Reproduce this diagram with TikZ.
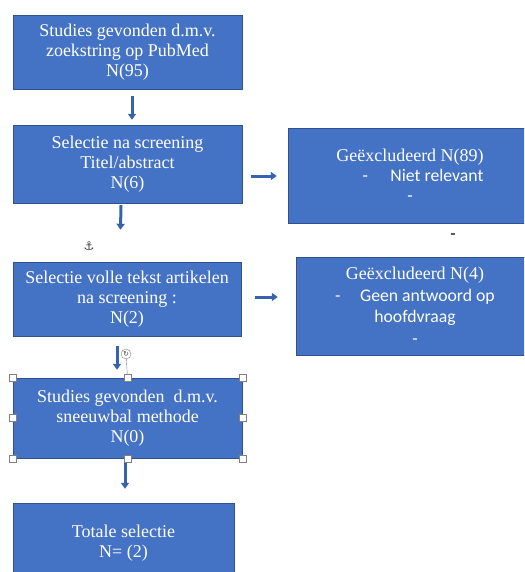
\documentclass[tikz,border=0pt]{standalone}
\usepackage{fontspec}
\setmainfont{Liberation Serif}
\newfontfamily\calib{Carlito}
\newfontfamily\symb{DejaVu Sans}
\usetikzlibrary{arrows.meta}

\definecolor{vakblauw}{HTML}{4472C4}
\definecolor{randblauw}{HTML}{2F528F}
\definecolor{pijlblauw}{HTML}{3762AE}

\tikzset{
 vak/.style={draw=randblauw,fill=vakblauw,text=white,align=center,inner sep=0pt,
             font=\fontsize{18}{20}\selectfont},
 pijl/.style={->,>={Triangle[length=6pt,width=8pt]},pijlblauw,line width=3pt},
 greep/.style={draw=gray,fill=white,minimum size=7pt,inner sep=0pt}
}
\newcommand\sch{\calib\fontsize{17.7}{20}\selectfont}

\begin{document}
\begin{tikzpicture}[x=1pt,y=-1pt]
 \clip (0,0) rectangle (524,572);
 \useasboundingbox (0,0) rectangle (524,572);
 % vakken links
 \node[vak,minimum width=229pt,minimum height=74pt] (zoek) at (127.5,52)
      {Studies gevonden d.m.v.\\ zoekstring op PubMed\\ N(95)};
 \node[vak,minimum width=229pt,minimum height=78pt] (titel) at (127.5,164)
      {Selectie na screening\\ Titel/abstract\\ N(6)};
 \node[vak,minimum width=228pt,minimum height=74pt] (volle) at (127,299)
      {Selectie volle tekst artikelen\\ na screening :\\ N(2)};
 \node[vak,minimum width=229pt,minimum height=80pt] (sneeuw) at (127.5,418)
      {Studies gevonden\ \ d.m.v.\\ sneeuwbal methode\\ N(0)};
 \node[vak,minimum width=221pt,minimum height=80pt] (totaal) at (123.5,543)
      {Totale selectie\\ N= (2)};
 % vakken rechts
 \node[vak,minimum width=244pt,minimum height=95pt] (excl1) at (410,175.5)
      {Geëxcludeerd N(89)\\ {\sch\hspace*{26pt}-\hspace{22.5pt}Niet relevant}\\ {\sch -}};
 \node[vak,minimum width=238pt,minimum height=98pt,font=\fontsize{18}{21.5}\selectfont] (excl2) at (415,306)
      {Geëxcludeerd N(4)\\ {\sch -\hspace{19.5pt}Geen antwoord op}\\
       {\sch hoofdvraag\hspace*{27pt}}\\ {\sch -}};
 \node[font=\sch] (streep) at (453,237) {-};
 % pijlen
 \draw[pijl] ([xshift=4.5pt,yshift=-7pt]zoek.south) -- ([xshift=4.5pt,yshift=5pt]titel.north);
 \draw[pijl] ([xshift=-6.5pt,yshift=-2pt]titel.south) -- ([xshift=-6.5pt,yshift=32pt]volle.north);
 \draw[pijl] ([xshift=-10pt,yshift=-10pt]volle.south) -- ([xshift=-10.5pt,yshift=8pt]sneeuw.north);
 \draw[pijl] ([xshift=-2.5pt,yshift=-2pt]sneeuw.south) -- ([xshift=1.5pt,yshift=14pt]totaal.north);
 \draw[pijl] ([xshift=9pt,yshift=-12pt]titel.east) coordinate (p1) -- ([xshift=-11pt]p1 -| excl1.west);
 \draw[pijl] ([xshift=14pt,yshift=2pt]volle.east) coordinate (p2) -- ([xshift=-18pt]p2 -| excl2.west);
 % selectie grepen
 \foreach \a/\n in {north west/nw,north/n,north east/ne,west/w,east/e,south west/sw,south/s,south east/se}
   \node[greep] (greep\n) at (sneeuw.\a) {};
 \node[draw=gray,circle,fill=white,minimum size=10pt,inner sep=0pt,
       font=\symb\fontsize{7}{7}\selectfont,text=darkgray] (draai) at (126,354) {↻};
 \draw[gray] (draai) -- (greepn);
 \node[font=\symb\fontsize{12}{12}\selectfont,text=darkgray] (anker) at (89,246) {⚓};
\end{tikzpicture}
\end{document}
